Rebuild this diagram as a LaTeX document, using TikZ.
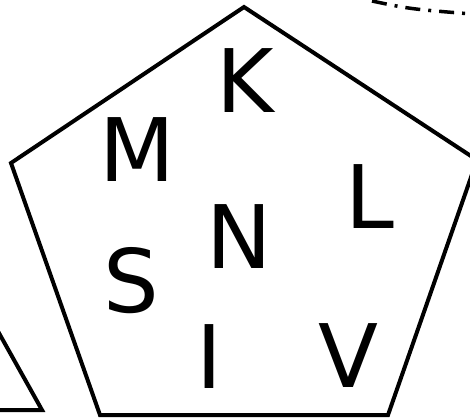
\documentclass[tikz,border=0pt]{standalone}
\usepackage{fontspec}
\setmainfont{DejaVu Sans}
\begin{document}
\begin{tikzpicture}[x=1bp,y=-1bp,line width=4bp,
	letter/.style={font=\fontsize{88}{88}\selectfont,inner sep=0pt}]
\useasboundingbox (0,0) rectangle (470,419);
\clip (0,0) rectangle (470,419);
% pentagon
\draw[line join=miter] (244,7) -- (477,160) -- (388,415) -- (100,415) -- (11,163) -- cycle;
% triangle, cut at the left
\draw[line join=miter] (-10,317) -- (42,410) -- (-20,410);
% arc at the top right
\draw[line width=3.5bp,dash pattern=on 15bp off 8bp on 3bp off 8bp] (372,1) .. controls (410,9) .. (472,14);
\foreach \name/\px/\py in {
	K/245/81,
	M/137/150,
	L/370/197,
	N/239/237,
	S/131/281,
	I/209/357,
	V/348/356%
	}{
	\node[letter] (\name) at (\px,\py) {\name};
	}
\end{tikzpicture}
\end{document}
